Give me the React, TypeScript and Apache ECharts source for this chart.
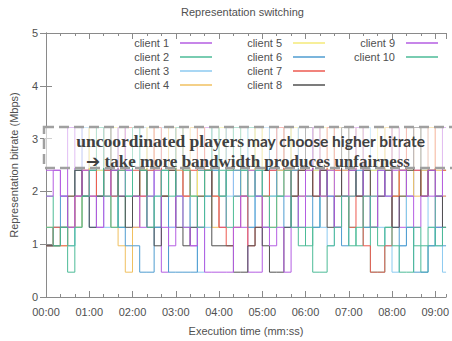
import React, { useEffect, useRef } from "react";
import * as echarts from "echarts";

// Bitrate levels (Mbps) that the players switch between
const levels = [0.47, 0.97, 1.32, 1.91, 2.4, 3.21];

// Sample times in seconds (each value holds until the next time)
const sampleTimes = [
  0, 10, 20, 30, 40, 50, 60, 70, 80, 90,
  100, 110, 120, 130, 140, 150, 160, 170, 180, 190,
  200, 210, 220, 230, 240, 250, 260, 270, 280, 290,
  300, 310, 320, 330, 340, 350, 360, 370, 380, 390,
  400, 410, 420, 430, 440, 450, 460, 470, 480, 490,
  500, 510, 520, 530, 540, 550,
];
const endTime = 555;

const clientNames = [
  "client 1", "client 2", "client 3", "client 4", "client 5",
  "client 6", "client 7", "client 8", "client 9", "client 10",
];
const clientColors = [
  "#b45ee2", "#4dbb97", "#8ccaf0", "#f0c060", "#f4ea78",
  "#4f9cd0", "#ec5a50", "#505050", "#b45ee2", "#4dbb97",
];

// Level index (into `levels`) per sample time, for each client
const client1 = [4,4,3,5,3,5,4,2,4,5, 3,4,2,3,5,2,0,2,4,3, 1,4,5,3,2,4,3,2,0,0, 2,4,5,3,4,2,3,5,4,3, 2,4,5,3,4,2,3,5,4,2, 3,4,5,3,2,3];
const client2 = [3,1,2,0,2,3,4,3,5,4, 2,3,5,4,3,2,4,5,3,2, 3,4,3,5,4,2,3,4,5,3, 2,3,4,5,3,2,1,2,3,4, 5,3,2,1,2,0,0,2,3,4, 2,1,0,1,3,4];
const client3 = [1,2,2,1,3,5,3,4,2,3, 5,4,3,5,4,3,5,2,3,4, 2,0,2,4,5,3,4,5,2,4, 5,3,4,5,4,3,5,4,2,1, 3,5,4,3,5,4,2,1,0,1, 3,5,4,2,1,0];
const client4 = [2,1,2,3,2,4,5,3,4,2, 1,0,2,4,5,4,3,5,4,3, 5,3,4,2,3,5,4,3,4,5, 3,2,4,5,4,3,4,5,3,4, 5,4,3,5,4,3,4,5,3,4, 5,3,4,5,4,3];
const client5 = [1,2,1,2,4,3,5,4,3,5, 4,5,3,4,5,4,3,4,5,4, 3,5,4,3,5,4,5,3,4,5, 4,5,3,4,5,4,3,4,5,4, 3,5,4,5,3,4,5,4,5,3, 4,5,3,4,5,4];
const client6 = [1,2,3,2,4,3,2,3,4,3, 2,1,1,0,0,2,3,0,0,0, 0,2,3,4,3,5,4,3,2,3, 4,5,3,2,4,5,3,2,4,3, 2,1,3,4,2,3,4,3,2,1, 2,0,0,1,2,1];
const client7 = [1,2,1,2,3,4,3,5,4,3, 4,5,4,3,4,5,3,4,5,3, 4,5,4,3,2,1,2,3,1,2, 3,4,5,4,3,4,5,3,4,5, 4,3,2,3,1,0,0,1,3,4, 5,4,3,4,5,4];
const client8 = [1,1,2,3,4,3,2,3,5,4, 3,2,3,4,2,1,3,4,2,1, 2,3,4,1,1,1,0,0,1,2, 1,0,0,2,3,4,5,3,4,2, 3,5,4,3,4,2,3,4,2,3, 4,5,3,4,3,2];
const client9 = [3,4,3,2,3,4,3,2,3,4, 5,4,3,2,3,4,2,1,3,2, 1,2,0,0,0,0,2,3,4,3, 2,1,2,0,2,3,4,5,3,4, 2,3,4,5,3,2,4,3,5,4, 3,2,3,4,3,5];
const client10 = [2,1,2,1,2,3,4,5,3,2, 4,3,5,4,2,3,4,3,5,4, 3,2,4,5,3,4,5,4,3,4, 3,2,3,4,2,1,2,0,0,1, 2,3,1,2,3,2,1,2,1,0, 0,2,1,2,1,2];

const clientLevels = [client1, client2, client3, client4, client5, client6, client7, client8, client9, client10];

const annotationLine1a = "uncoordinated players";
const annotationLine1b = "may choose higher bitrate";
const annotationLine2 = "\u2794 take more bandwidth produces unfairness";

const pad = (n: number) => (n < 10 ? "0" + n : "" + n);
const fmtTime = (v: number) => pad(Math.floor(v / 60)) + ":" + pad(Math.round(v % 60));

const FONT = "Liberation Sans";
const TEXT = "#505050";
const FRAME = "#8a8a8a";

export default function App() {
  const ref = useRef<HTMLDivElement>(null);
  useEffect(() => {
    if (!ref.current) return;
    const chart = echarts.init(ref.current, null, { renderer: "svg" });

    const series = clientLevels.map((arr, ci) => {
      const data = sampleTimes.map((t, i) => [t, levels[arr[i]]]);
      data.push([endTime, levels[arr[arr.length - 1]]]);
      return {
        name: clientNames[ci],
        type: "line",
        step: "end",
        showSymbol: false,
        symbol: "none",
        xAxisIndex: 0,
        yAxisIndex: 0,
        color: clientColors[ci],
        lineStyle: { width: 1, color: clientColors[ci] },
        data,
      };
    });

    const legendBase = {
      orient: "vertical",
      align: "right",
      icon: "rect",
      itemWidth: 32,
      itemHeight: 1.5,
      itemGap: 0,
      padding: 0,
      top: 36,
      selectedMode: false,
      textStyle: { fontFamily: FONT, fontSize: 11, color: TEXT, lineHeight: 14, padding: [0, 6, 0, 0] },
    };

    const xCommon = { type: "value", min: 0, max: endTime, splitLine: { show: false } };

    chart.setOption({
      animation: false,
      backgroundColor: "#ffffff",
      title: {
        text: "Representation switching",
        left: 181,
        top: 6,
        padding: 0,
        textStyle: { fontFamily: FONT, fontSize: 11, fontWeight: "normal", color: TEXT },
      },
      legend: [
        { ...legendBase, right: 240, data: clientNames.slice(0, 4) },
        { ...legendBase, right: 127, data: clientNames.slice(4, 8) },
        { ...legendBase, right: 14, data: clientNames.slice(8) },
      ],
      grid: { left: 45, right: 5, top: 33, bottom: 44, containLabel: false },
      xAxis: [
        {
          ...xCommon,
          position: "bottom",
          interval: 60,
          name: "Execution time (mm:ss)",
          nameLocation: "middle",
          nameGap: 28,
          nameTextStyle: { fontFamily: FONT, fontSize: 11, color: TEXT },
          axisLine: { show: true, lineStyle: { color: FRAME, width: 1 } },
          axisTick: { show: true, inside: true, length: 6, lineStyle: { color: FRAME } },
          axisLabel: { show: true, margin: 9, showMaxLabel: false, fontFamily: FONT, fontSize: 11, color: TEXT, formatter: fmtTime },
        },
        {
          ...xCommon,
          position: "bottom",
          interval: 20,
          axisLine: { show: false },
          axisTick: { show: true, inside: true, length: 3, lineStyle: { color: FRAME } },
          axisLabel: { show: false },
        },
        {
          ...xCommon,
          position: "top",
          interval: 60,
          axisLine: { show: true, lineStyle: { color: FRAME, width: 1 } },
          axisTick: { show: true, inside: true, length: 6, lineStyle: { color: FRAME } },
          axisLabel: { show: false },
        },
        {
          ...xCommon,
          position: "top",
          interval: 20,
          axisLine: { show: false },
          axisTick: { show: true, inside: true, length: 3, lineStyle: { color: FRAME } },
          axisLabel: { show: false },
        },
      ],
      yAxis: [
        {
          type: "value",
          position: "left",
          min: 0,
          max: 5,
          interval: 1,
          name: "Representation bitrate (Mbps)",
          nameLocation: "middle",
          nameGap: 27,
          nameTextStyle: { fontFamily: FONT, fontSize: 11, color: TEXT },
          splitLine: { show: false },
          axisLine: { show: true, lineStyle: { color: FRAME, width: 1 } },
          axisTick: { show: true, inside: true, length: 6, lineStyle: { color: FRAME } },
          axisLabel: { margin: 8, fontFamily: FONT, fontSize: 11, color: TEXT },
        },
        {
          type: "value",
          position: "right",
          min: 0,
          max: 5,
          interval: 1,
          splitLine: { show: false },
          axisLine: { show: true, lineStyle: { color: FRAME, width: 1 } },
          axisTick: { show: true, inside: true, length: 6, lineStyle: { color: FRAME } },
          axisLabel: { show: false },
        },
      ],
      graphic: [
        {
          type: "rect",
          z: 100,
          shape: { x: 44, y: 127, width: 420, height: 41 },
          style: { fill: "rgba(255,255,255,0.6)", stroke: "#a0a0a0", lineWidth: 2.5, lineDash: [10, 5] },
        },
        {
          type: "text",
          z: 101,
          x: 244,
          y: 141,
          style: {
            text: annotationLine1a,
            font: 'bold 17.5px "Liberation Serif"',
            fill: "#404040",
            align: "right",
            verticalAlign: "middle",
          },
        },
        {
          type: "text",
          z: 101,
          x: 247,
          y: 141,
          style: {
            text: annotationLine1b,
            font: "bold 15.5px Lato",
            fill: "#404040",
            align: "left",
            verticalAlign: "middle",
          },
        },
        {
          type: "text",
          z: 101,
          x: 248,
          y: 161,
          style: {
            text: annotationLine2,
            font: 'bold 17px "Liberation Serif", "DejaVu Sans"',
            fill: "#404040",
            align: "center",
            verticalAlign: "middle",
          },
        },
      ],
      series,
    });
    return () => chart.dispose();
  }, []);
  return <div ref={ref} style={{ position: "fixed", left: 0, top: 0, width: 452, height: 341 }} />;
}
